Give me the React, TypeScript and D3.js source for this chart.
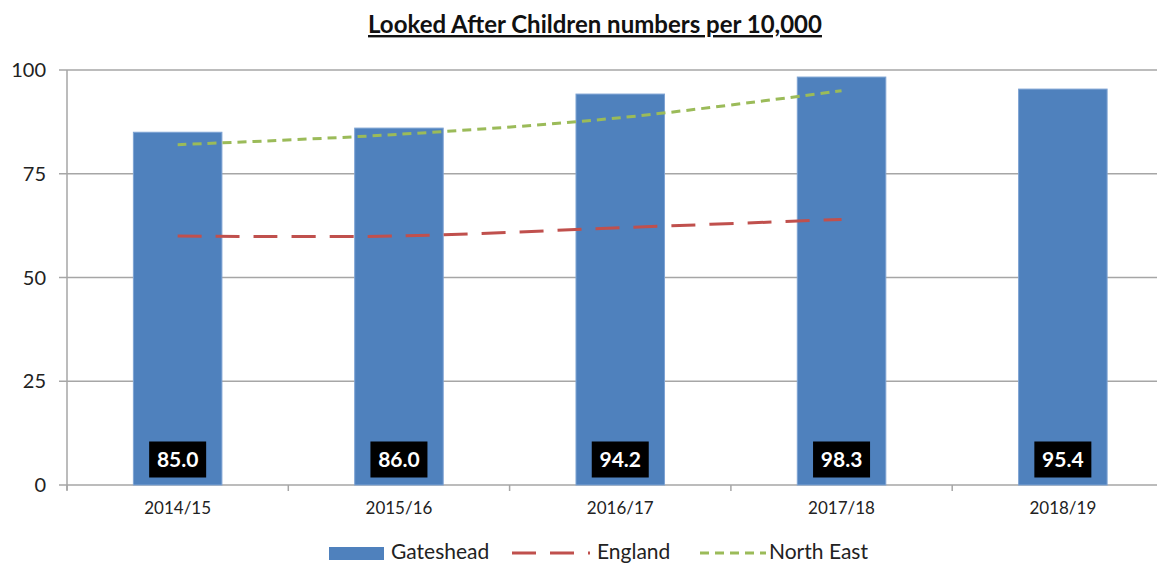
import React from "react";
import * as d3 from "d3";

const categories = ["2014/15", "2015/16", "2016/17", "2017/18", "2018/19"];
const gateshead = [85.0, 86.0, 94.2, 98.3, 95.4];
const england = [60, 60, 62, 64];
const northEast = [82, 84.5, 88.5, 95];
const yTicks = [0, 25, 50, 75, 100];
const title = "Looked After Children numbers per 10,000";

const W = 1157;
const H = 564;
const FONT = "Lato, 'Open Sans', sans-serif";

export default function App() {
  const left = 67;
  const band = 221.3;
  const x = d3
    .scaleBand<string>()
    .domain(categories)
    .range([left, left + band * categories.length])
    .paddingInner(0.6)
    .paddingOuter(0.3);
  const xc = (c: string) => (x(c) as number) + x.bandwidth() / 2;
  const y = d3.scaleLinear().domain([0, 100]).range([485, 70]);

  const line = d3
    .line<number>()
    .x((_, i) => xc(categories[i]))
    .y((d) => y(d))
    .curve(d3.curveCatmullRom.alpha(0.5));

  const boundaries = d3.range(categories.length + 1).map((i) => left + i * band);

  return (
    <svg
      width={W}
      height={H}
      style={{ position: "absolute", left: 0, top: 0, background: "#fff" }}
      fontFamily={FONT}
    >
      <text
        x={595}
        y={33}
        textAnchor="middle"
        fontSize={24}
        fontWeight="bold"
        fill="#111"
        textDecoration="underline"
      >
        {title}
      </text>

      {/* gridlines */}
      {yTicks.map((t) => (
        <g key={t}>
          <line x1={59} x2={W} y1={y(t)} y2={y(t)} stroke="#a6a6a6" strokeWidth={1.5} />
          <text
            x={46}
            y={y(t)}
            dy="0.35em"
            textAnchor="end"
            fontSize={20}
            fill="#222"
          >
            {t}
          </text>
        </g>
      ))}
      {/* y axis */}
      <line x1={left} x2={left} y1={y(100)} y2={y(0) + 5} stroke="#a6a6a6" strokeWidth={1.5} />
      {/* x ticks */}
      {boundaries.map((b, i) => (
        <line key={i} x1={b} x2={b} y1={y(0)} y2={y(0) + 6} stroke="#a6a6a6" strokeWidth={1.5} />
      ))}

      {/* bars */}
      {categories.map((c, i) => (
        <rect
          key={c}
          x={x(c)}
          y={y(gateshead[i])}
          width={x.bandwidth()}
          height={y(0) - y(gateshead[i])}
          fill="#4f81bd"
          stroke="#7ea3d3"
          strokeWidth={1}
        />
      ))}

      {/* lines */}
      <path d={line(england) || ""} fill="none" stroke="#c0504d" strokeWidth={3} strokeDasharray="24 14" />
      <path d={line(northEast) || ""} fill="none" stroke="#9bbb59" strokeWidth={3} strokeDasharray="9 6" />

      {/* data labels */}
      {categories.map((c, i) => (
        <g key={c}>
          <rect x={xc(c) - 28.5} y={441.5} width={57} height={36} fill="#000" />
          <text
            x={xc(c)}
            y={459.5}
            dy="0.36em"
            textAnchor="middle"
            fontSize={21}
            fontWeight="bold"
            fill="#fff"
          >
            {gateshead[i].toFixed(1)}
          </text>
        </g>
      ))}

      {/* x labels */}
      {categories.map((c) => (
        <text key={c} x={xc(c)} y={514} textAnchor="middle" fontSize={17} fill="#222">
          {c}
        </text>
      ))}

      {/* legend */}
      <rect x={329} y={547} width={55} height={13} fill="#4f81bd" />
      <text x={391} y={559} fontSize={21} fill="#222">Gateshead</text>
      <line x1={512} x2={590} y1={553} y2={553} stroke="#c0504d" strokeWidth={3} strokeDasharray="24 14" />
      <text x={597} y={559} fontSize={21} fill="#222">England</text>
      <line x1={700} x2={766} y1={553} y2={553} stroke="#9bbb59" strokeWidth={3} strokeDasharray="9 6" />
      <text x={769} y={559} fontSize={21} fill="#222">North East</text>
    </svg>
  );
}
